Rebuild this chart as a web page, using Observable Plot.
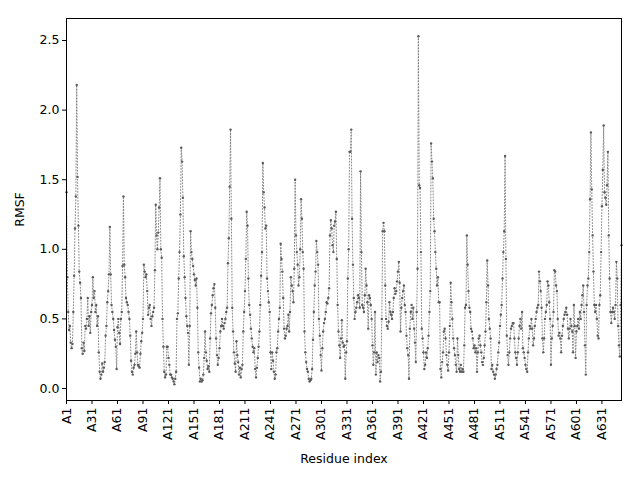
<!DOCTYPE html>
<html><head><meta charset="utf-8">
<script src="https://cdn.jsdelivr.net/npm/d3@7"></script>
<script src="https://cdn.jsdelivr.net/npm/@observablehq/plot@0.6"></script>
<style>body{margin:0;background:#fff;} svg{font-family:"DejaVu Sans";}</style>
</head><body><div id="chart"></div>
<script>
// RMSF per residue (A1 ... A654)
const rmsf = [
1.41,0.80,0.55,0.42,0.45,0.33,0.29,0.32,0.55,0.81,
1.15,1.38,2.18,1.52,1.17,0.84,0.76,0.65,0.29,0.25,
0.33,0.27,0.45,0.43,0.50,0.65,0.45,0.52,0.40,0.55,
0.60,0.80,0.65,0.70,0.55,0.60,0.45,0.52,0.26,0.12,
0.07,0.10,0.18,0.12,0.15,0.19,0.38,0.45,0.62,0.70,
0.82,1.16,0.82,0.60,0.55,0.50,0.42,0.35,0.30,0.14,
0.44,0.50,0.40,0.32,0.50,0.55,0.88,1.38,0.89,0.80,
0.65,0.62,0.60,0.55,0.50,0.38,0.20,0.12,0.10,0.15,
0.17,0.25,0.41,0.26,0.17,0.16,0.15,0.25,0.34,0.40,
0.50,0.89,0.84,0.80,0.82,0.70,0.53,0.58,0.60,0.50,
0.45,0.52,0.55,0.58,0.85,1.32,1.10,1.00,1.12,1.30,
1.51,1.00,0.94,0.50,0.30,0.12,0.08,0.10,0.30,0.30,
0.22,0.17,0.10,0.10,0.08,0.07,0.05,0.03,0.07,0.12,
0.50,0.54,0.79,0.98,1.25,1.73,1.63,1.37,0.95,0.80,
0.65,0.52,0.45,0.40,0.17,0.45,1.13,0.98,0.93,0.88,
0.82,0.78,0.74,0.79,0.58,0.26,0.15,0.05,0.07,0.05,
0.06,0.10,0.22,0.41,0.26,0.20,0.14,0.16,0.12,0.36,
0.54,0.60,0.67,0.72,0.75,0.58,0.36,0.24,0.17,0.22,
0.29,0.41,0.45,0.50,0.45,0.43,0.47,0.50,0.55,0.58,
0.90,1.08,1.45,1.86,1.22,0.58,0.41,0.26,0.18,0.12,
0.34,0.24,0.19,0.10,0.15,0.08,0.14,0.17,0.41,0.55,
0.70,0.93,1.27,1.17,0.79,0.60,0.53,0.43,0.36,0.30,
0.26,0.29,0.14,0.08,0.15,0.22,0.30,0.41,0.60,0.81,
0.98,1.62,1.41,1.30,1.15,1.17,0.79,0.70,0.62,0.55,
0.26,0.14,0.26,0.20,0.12,0.07,0.10,0.26,0.29,0.41,
0.50,0.58,1.04,0.93,0.84,0.65,0.43,0.36,0.38,0.43,
0.45,0.53,0.41,0.55,0.80,0.74,0.70,0.62,0.86,1.50,
1.10,0.98,0.89,0.74,0.80,1.00,1.36,1.22,0.98,0.86,
0.41,0.26,0.19,0.14,0.12,0.07,0.05,0.06,0.07,0.14,
0.35,0.55,0.74,0.84,1.06,0.98,0.89,0.50,0.38,0.24,
0.13,0.29,0.41,0.47,0.50,0.55,0.62,0.61,0.65,0.72,
1.10,1.21,1.15,1.03,0.98,1.17,1.20,1.27,0.93,0.60,
0.41,0.31,0.22,0.36,0.49,0.33,0.30,0.31,0.07,0.26,
0.34,0.79,1.00,1.70,1.70,1.86,1.22,0.89,0.65,0.50,
0.55,0.58,0.62,0.67,0.65,0.58,1.56,0.98,0.60,0.58,
0.55,0.67,0.86,0.74,0.62,0.43,0.67,0.65,0.60,0.50,
0.31,0.17,0.26,0.55,0.10,0.26,0.19,0.24,0.22,0.05,
0.12,0.50,1.13,1.19,1.13,0.74,0.50,0.45,0.43,0.48,
0.62,0.55,0.53,0.50,0.55,0.65,0.72,0.68,0.70,0.77,
0.84,0.91,0.76,0.41,0.58,0.65,0.70,0.74,0.60,0.55,
0.38,0.29,0.24,0.07,0.43,0.55,0.60,0.50,0.58,0.43,
0.33,0.19,0.55,0.86,2.53,1.46,1.44,0.98,0.43,0.36,
0.26,0.14,0.17,0.26,0.22,0.29,0.38,0.55,0.70,1.76,
1.63,1.51,1.22,1.13,0.98,0.86,0.74,0.80,0.62,0.62,
0.14,0.08,0.19,0.26,0.41,0.43,0.36,0.24,0.17,0.13,
0.26,0.45,0.76,0.62,0.50,0.36,0.29,0.24,0.17,0.12,
0.36,0.24,0.14,0.12,0.17,0.12,0.14,0.12,0.31,0.58,
0.60,1.10,0.89,0.70,0.58,0.55,0.43,0.41,0.36,0.29,
0.31,0.26,0.29,0.12,0.26,0.36,0.38,0.31,0.26,0.19,
0.17,0.22,0.31,0.41,0.62,0.92,0.74,0.50,0.43,0.36,
0.14,0.17,0.12,0.10,0.07,0.10,0.14,0.17,0.26,0.33,
0.45,0.53,0.60,0.79,0.98,1.13,1.67,0.93,0.38,0.24,
0.17,0.26,0.36,0.43,0.45,0.47,0.47,0.36,0.26,0.22,
0.17,0.26,0.36,0.45,0.50,0.43,0.55,0.29,0.26,0.22,
0.17,0.14,0.12,0.26,0.36,0.45,0.43,0.50,0.43,0.31,
0.36,0.45,0.50,0.55,0.58,0.60,0.84,0.77,0.70,0.58,
0.36,0.26,0.36,0.50,0.55,0.60,0.77,0.74,0.62,0.50,
0.17,0.36,0.45,0.55,0.85,0.84,0.74,0.70,0.50,0.38,
0.40,0.36,0.26,0.38,0.45,0.50,0.53,0.55,0.58,0.53,
0.43,0.36,0.43,0.50,0.45,0.41,0.26,0.60,0.45,0.22,
0.41,0.45,0.50,0.43,0.55,0.50,0.60,0.67,0.74,0.55,
0.31,0.10,0.60,0.74,0.79,0.98,1.36,1.84,1.43,1.10,
0.84,0.60,0.55,0.60,0.50,0.38,0.36,0.60,0.67,0.98,
1.31,1.57,1.89,1.41,1.37,1.32,1.46,1.70,1.10,0.79,
0.55,0.47,0.55,0.58,0.55,0.50,0.60,0.91,0.79,0.45,
0.31,0.23,0.60,1.03
];
const tickResidues = [1,31,61,91,121,151,181,211,241,271,301,331,361,391,421,451,481,511,541,571,601,631];
const tickLabels = ["A1","A31","A61","A91","A121","A151","A181","A211","A241","A271","A301","A331","A361","A391","A421","A451","A481","A511","A541","A571","A601","A631"];
const yTicks = [0, 0.5, 1.0, 1.5, 2.0, 2.5];

const data = rmsf.map((v, i) => ({residue: i + 1, rmsf: v}));

const chart = Plot.plot({
  width: 640, height: 480,
  marginLeft: 66, marginRight: 19, marginTop: 18, marginBottom: 80,
  style: {fontFamily: "DejaVu Sans", fontSize: "12.5px", background: "white", color: "black"},
  x: {domain: [1, rmsf.length]},
  y: {domain: [-0.086, 2.658]},
  marks: [
    Plot.line(data, {x: "residue", y: "rmsf", stroke: "#7a7a7a", strokeWidth: 0.9, strokeDasharray: "1,2"}),
    Plot.dot(data, {x: "residue", y: "rmsf", r: 1.2, fill: "#5a5a5a", stroke: "none"}),
    Plot.frame({stroke: "black", strokeWidth: 1}),
    Plot.axisX({ticks: tickResidues, tickFormat: d => tickLabels[tickResidues.indexOf(d)], tickRotate: -90,
      tickSize: 4, tickPadding: 3, label: "Residue index", labelAnchor: "center", labelArrow: "none", labelOffset: 62}),
    Plot.axisY({ticks: yTicks, tickFormat: d => d.toFixed(1), tickSize: 4, tickPadding: 3,
      label: "RMSF", labelAnchor: "center", labelArrow: "none", labelOffset: 51})
  ]
});
document.getElementById("chart").appendChild(chart);
</script>
</body></html>
